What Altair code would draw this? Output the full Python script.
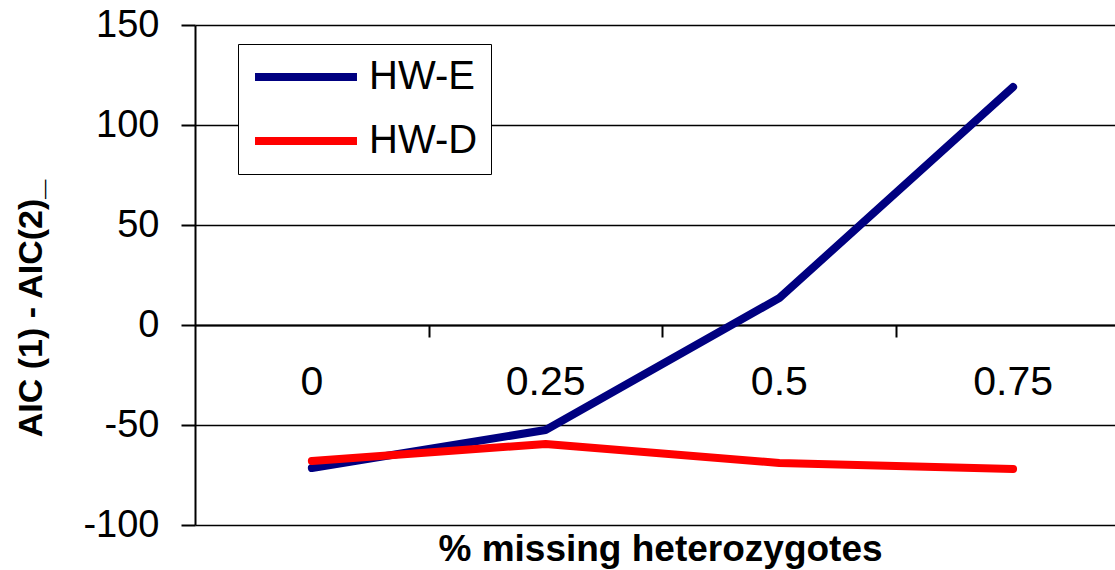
import altair as alt
import pandas as pd

# Fraction of heterozygotes removed from the sample
missing = [0, 0.25, 0.5, 0.75]
tick_labels = ["0", "0.25", "0.5", "0.75"]

# AIC(1) - AIC(2) for each simulated population type
hw_e = [-71.5, -52.5, 13.5, 119]
hw_d = [-68, -59.5, -69, -72]

series = ["HW-E", "HW-D"]
colors = ["#000080", "#FF0000"]

rows = []
for name, vals in zip(series, [hw_e, hw_d]):
    for m, v in zip(missing, vals):
        rows.append({"missing": m, "diff": v, "model": name})
df = pd.DataFrame(rows)

label_df = pd.DataFrame({"missing": missing, "label": tick_labels, "ypos": [-29] * 4})

FONT = "Liberation Sans"

x_scale = alt.Scale(domain=[-0.125, 0.859], nice=False, zero=False)
y_scale = alt.Scale(domain=[-100, 150], nice=False, zero=False)

lines = alt.Chart(df).mark_line(strokeWidth=8, strokeCap="round", strokeJoin="round").encode(
    x=alt.X(
        "missing:Q",
        scale=x_scale,
        axis=alt.Axis(
            values=[0.125, 0.375, 0.625],
            labels=False,
            grid=False,
            offset=-200,
            domain=True,
            domainColor="black",
            domainWidth=2,
            ticks=True,
            tickSize=12,
            tickWidth=2,
            tickColor="black",
            title="% missing heterozygotes",
            titleFont=FONT,
            titleFontSize=37,
            titleFontWeight="bold",
            titleColor="black",
            titleX=465,
            titleY=224,
            titleAlign="center",
            titleBaseline="middle",
        ),
    ),
    y=alt.Y(
        "diff:Q",
        scale=y_scale,
        axis=alt.Axis(
            values=[-100, -50, 0, 50, 100, 150],
            labelExpr="toString(datum.value)",
            grid=True,
            gridColor="black",
            gridWidth=1.5,
            gridOpacity=1,
            domain=True,
            domainColor="black",
            domainWidth=2,
            tickSize=14,
            tickWidth=2,
            tickColor="black",
            labelFont=FONT,
            labelFontSize=38,
            labelColor="black",
            labelPadding=22,
            title="AIC (1) - AIC(2)_",
            titleFont=FONT,
            titleFontSize=34,
            titleFontWeight="bold",
            titleColor="black",
            titleX=-164,
            titleY=283,
            titleAlign="center",
            titleBaseline="middle",
        ),
    ),
    color=alt.Color(
        "model:N",
        scale=alt.Scale(domain=series, range=colors),
        sort=series,
        legend=alt.Legend(
            title=None,
            orient="none",
            legendX=43,
            legendY=19,
            symbolType="stroke",
            symbolSize=10400,
            symbolStrokeWidth=8,
            clipHeight=40,
            labelFont=FONT,
            labelFontSize=40,
            labelColor="black",
            labelOffset=8,
            rowPadding=24,
            padding=13,
            strokeColor="black",
            fillColor="white",
        ),
    ),
    order=alt.Order("model:N", sort="descending"),
)

labels = alt.Chart(label_df).mark_text(
    font=FONT, fontSize=41, color="black", baseline="middle", align="center"
).encode(
    x=alt.X("missing:Q", scale=x_scale),
    y=alt.Y("ypos:Q", scale=y_scale),
    text="label:N",
)

chart = alt.layer(labels, lines).properties(
    width=920,
    height=500,
    autosize=alt.AutoSizeParams(type="none"),
    padding={"left": 195, "top": 25, "right": 0, "bottom": 45},
    background="white",
).configure_view(stroke=None)

chart.save("out.html", embed_options={"renderer": "svg", "actions": False})
